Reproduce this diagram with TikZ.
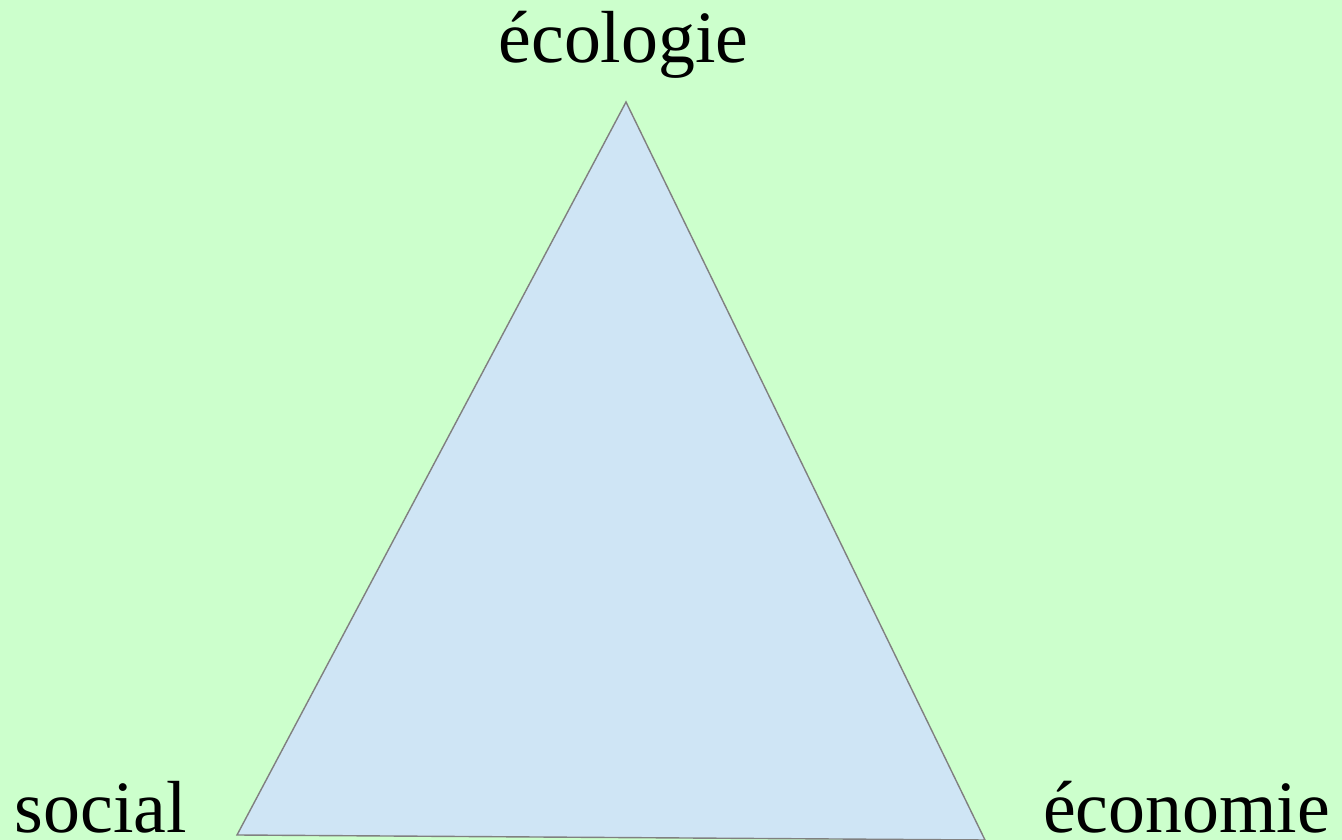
\documentclass[tikz,border=0pt]{standalone}
\usepackage{fontspec}
\setmainfont{Liberation Serif}
\usepackage{tikz}
\usetikzlibrary{positioning}
\definecolor{bggreen}{HTML}{CCFFCC}
\definecolor{trifill}{HTML}{CFE5F5}
\tikzset{
	pillar/.style={font=\fontsize{21}{25}\selectfont, inner sep=0pt, anchor=base}
}
\begin{document}
\begin{tikzpicture}[>=stealth]
      \fill[bggreen] (0,0) rectangle (13.42,8.40);
      \useasboundingbox (0,0) rectangle (13.42,8.40);

      % corners of the triangle
      \coordinate (eco) at (6.26,7.38);
      \coordinate (soc) at (2.37,0.05);
      \coordinate (econ) at (9.85,0.00);
      \draw[gray, line width=0.4pt, fill=trifill] (eco) -- (soc) -- (econ) -- cycle;

      \node[pillar] (ecologie) at (6.235,7.77) {écologie};
      \node[pillar] (social) at (1.01,0.07) {social};
      \node[pillar] (economie) at (11.865,0.07) {économie};
    \end{tikzpicture}
\end{document}
